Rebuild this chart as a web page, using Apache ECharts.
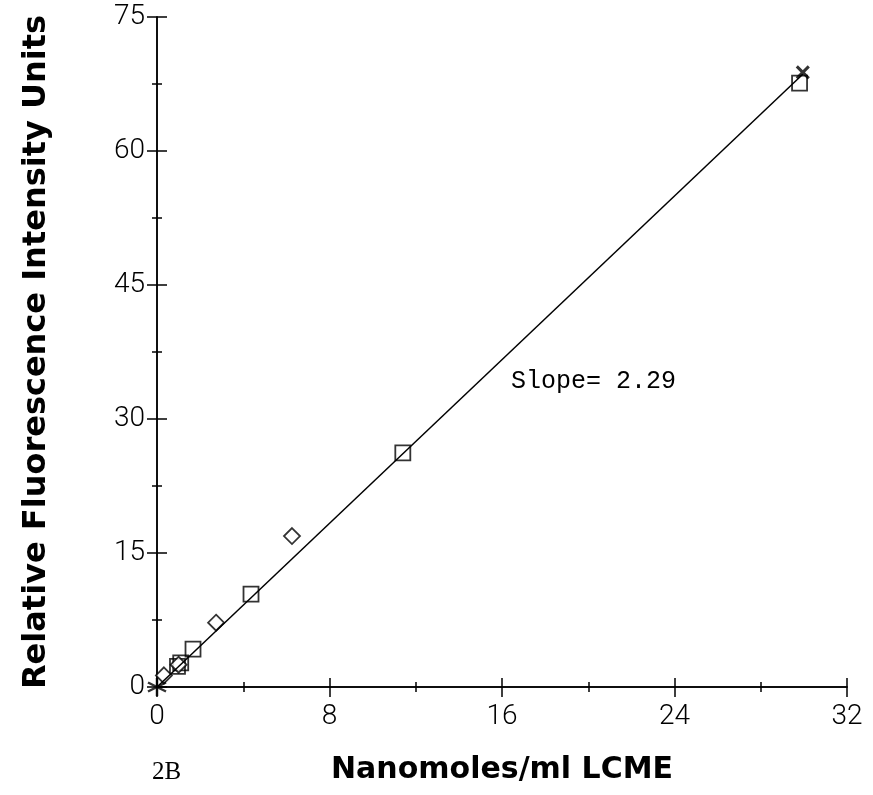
<!DOCTYPE html>
<html>
<head>
<meta charset="utf-8">
<script src="https://cdn.jsdelivr.net/npm/echarts@6/dist/echarts.min.js"></script>
<style>
  html, body { margin: 0; padding: 0; background: #fff; }
  #chart { width: 873px; height: 795px; }
</style>
</head>
<body>
<div id="chart"></div>
<script>
// measured points (nanomoles/ml, relative fluorescence)
const squarePts = [[0.95, 2.3], [1.1, 2.7], [1.67, 4.25], [4.36, 10.4], [11.4, 26.2], [29.8, 67.6]]
const diamondPts = [[0.32, 1.3], [1.0, 2.5], [2.74, 7.2], [6.26, 16.9]]
const crossPts = [[29.95, 68.8]]
const starPts = [[0, 0]]
const fitLine = [[0, 0], [29.95, 68.6]]
const xTicks = [0, 8, 16, 24, 32]
const yTicks = [0, 15, 30, 45, 60, 75]
const slopeText = 'Slope= 2.29'

const tickFont = { fontFamily: 'Roboto', fontWeight: 300, fontSize: 28, color: '#000' }
const titleFont = { fontFamily: 'DejaVu Sans', fontWeight: 'bold', color: '#000' }
const axisLine = { show: true, lineStyle: { color: '#000', width: 1.5 } }

function valAxis (ticks, extra) {
  return Object.assign({
    type: 'value',
    min: ticks[0],
    max: ticks[ticks.length - 1],
    interval: ticks[1] - ticks[0],
    axisLine: axisLine,
    splitLine: { show: false },
    minorTick: { show: true, splitNumber: 2, length: 5, lineStyle: { color: '#000', width: 1.5 } },
    axisTick: { show: true, length: 10, lineStyle: { color: '#000', width: 1.5 } }
  }, extra)
}

const chart = echarts.init(document.getElementById('chart'))
chart.setOption({
  animation: false,
  backgroundColor: '#fff',
  grid: { left: 157, top: 17, right: 26, bottom: 108 },
  xAxis: [
    valAxis(xTicks, {
      position: 'bottom',
      axisLabel: Object.assign({ margin: 16 }, tickFont),
      name: 'Nanomoles/ml LCME',
      nameLocation: 'middle',
      nameGap: 68,
      nameTextStyle: Object.assign({ fontSize: 30 }, titleFont)
    }),
    valAxis(xTicks, {
      position: 'bottom',
      axisTick: { show: true, inside: true, length: 9, lineStyle: { color: '#000', width: 1.5 } },
      minorTick: { show: true, splitNumber: 2, length: 5, lineStyle: { color: '#000', width: 1.5 } },
      axisLabel: { show: false }
    })
  ],
  yAxis: [
    valAxis(yTicks, {
      position: 'left',
      axisLabel: Object.assign({ margin: 12 }, tickFont),
      name: 'Relative Fluorescence Intensity Units',
      nameLocation: 'middle',
      nameGap: 104,
      nameTextStyle: Object.assign({ fontSize: 32 }, titleFont)
    }),
    valAxis(yTicks, {
      position: 'left',
      axisTick: { show: true, inside: true, length: 10, lineStyle: { color: '#000', width: 1.5 } },
      minorTick: { show: true, splitNumber: 2, length: 5, lineStyle: { color: '#000', width: 1.5 } },
      axisLabel: { show: false }
    })
  ],
  series: [
    {
      name: 'fit',
      type: 'line',
      data: fitLine,
      symbol: 'none',
      lineStyle: { color: '#000', width: 1.5 },
      clip: false
    },
    {
      name: 'squares',
      type: 'scatter',
      data: squarePts,
      symbol: 'rect',
      symbolSize: 15,
      itemStyle: { color: 'rgba(0,0,0,0)', borderColor: '#000', borderWidth: 1.8 },
      clip: false
    },
    {
      name: 'diamonds',
      type: 'scatter',
      data: diamondPts,
      symbol: 'diamond',
      symbolSize: 16,
      itemStyle: { color: '#fff', borderColor: '#000', borderWidth: 1.8 },
      clip: false
    },
    {
      name: 'cross',
      type: 'scatter',
      data: crossPts,
      symbol: 'path://M0,0L10,10M10,0L0,10',
      symbolSize: 12,
      itemStyle: { color: 'rgba(0,0,0,0)', borderColor: '#000', borderWidth: 3 },
      clip: false
    },
    {
      name: 'star',
      type: 'scatter',
      data: starPts,
      symbol: 'path://M5,0L5,10M0,2.5L10,7.5M0,7.5L10,2.5',
      symbolSize: 18,
      itemStyle: { color: 'rgba(0,0,0,0)', borderColor: '#000', borderWidth: 2.5 },
      clip: false
    }
  ],
  graphic: [
    {
      type: 'text',
      left: 511,
      top: 369,
      style: { text: slopeText, fontFamily: 'Liberation Mono', fontSize: 25, fill: '#000' }
    },
    {
      type: 'text',
      left: 152,
      top: 760,
      style: { text: '2B', fontFamily: 'Liberation Serif', fontSize: 25, fill: '#000' }
    }
  ]
})
</script>
</body>
</html>
